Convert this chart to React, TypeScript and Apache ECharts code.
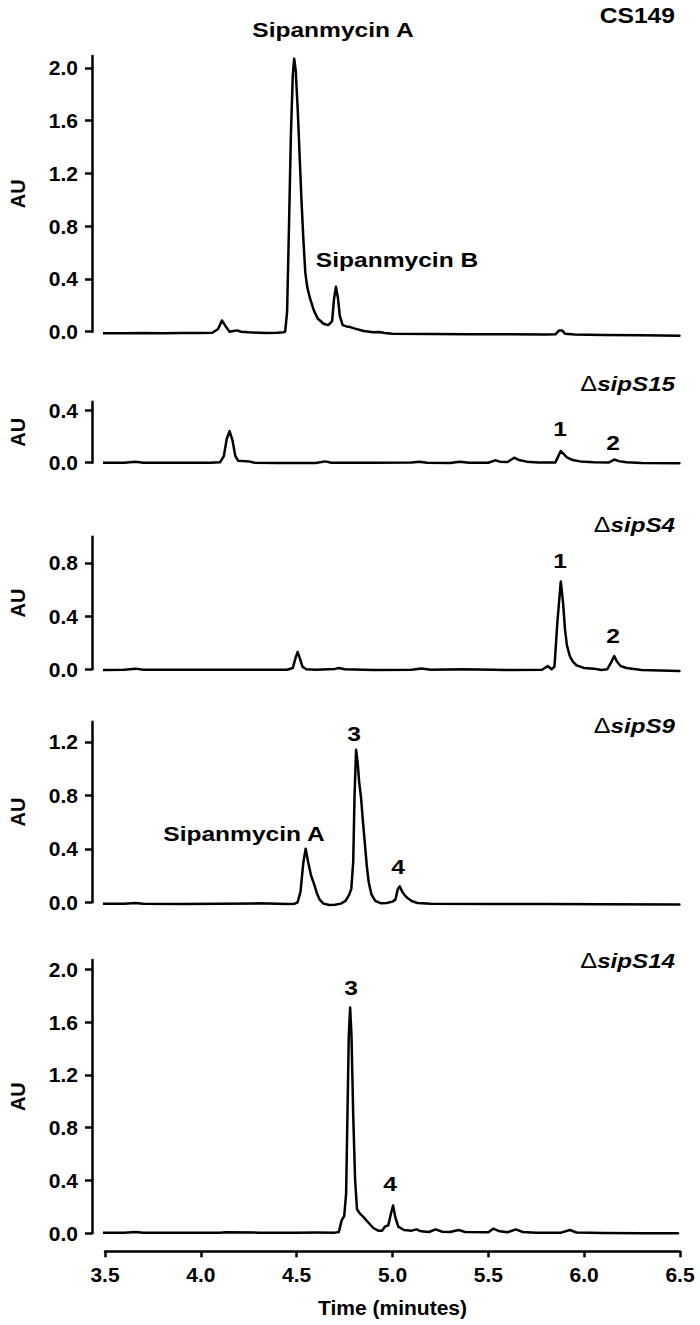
import React, { useEffect, useRef } from "react";
import * as echarts from "echarts";

// ---------- Data ----------
const xTicks = [3.5, 4.0, 4.5, 5.0, 5.5, 6.0, 6.5];

// CS149
const p1Time = [3.49, 3.6, 3.7, 3.8, 3.9, 4.0, 4.06, 4.09, 4.11, 4.13, 4.15, 4.17, 4.19, 4.21, 4.25, 4.3, 4.35, 4.4, 4.43, 4.44, 4.45, 4.46, 4.47, 4.48, 4.487, 4.495, 4.505, 4.515, 4.525, 4.535, 4.545, 4.555, 4.57, 4.59, 4.61, 4.64, 4.665, 4.685, 4.695, 4.705, 4.715, 4.725, 4.74, 4.76, 4.78, 4.8, 4.85, 4.9, 4.93, 4.96, 5.0, 5.2, 5.4, 5.6, 5.8, 5.85, 5.87, 5.885, 5.9, 5.95, 6.1, 6.3, 6.497];
const p1AU = [-0.012, -0.012, -0.01, -0.012, -0.01, -0.01, -0.008, 0.02, 0.085, 0.04, 0.0, 0.005, 0.01, 0.0, -0.005, -0.008, -0.01, -0.008, -0.004, 0.0, 0.15, 0.8, 1.5, 1.95, 2.07, 1.98, 1.7, 1.35, 1.0, 0.7, 0.45, 0.34, 0.25, 0.16, 0.1, 0.06, 0.05, 0.08, 0.25, 0.34, 0.26, 0.12, 0.05, 0.04, 0.035, 0.025, 0.005, -0.005, -0.002, -0.01, -0.015, -0.018, -0.02, -0.02, -0.022, -0.02, 0.01, 0.01, -0.015, -0.022, -0.025, -0.027, -0.03];
const p1Ticks = [0, 0.4, 0.8, 1.2, 1.6, 2.0];

// ΔsipS15
const p2Time = [3.49, 3.6, 3.66, 3.7, 3.9, 4.05, 4.1, 4.12, 4.135, 4.15, 4.165, 4.18, 4.195, 4.22, 4.25, 4.28, 4.4, 4.6, 4.65, 4.68, 4.9, 5.1, 5.14, 5.18, 5.3, 5.35, 5.4, 5.5, 5.535, 5.56, 5.6, 5.635, 5.66, 5.7, 5.76, 5.85, 5.865, 5.878, 5.89, 5.91, 5.94, 5.98, 6.05, 6.13, 6.157, 6.18, 6.22, 6.3, 6.497];
const p2AU = [0.0, 0.0, 0.008, 0.0, 0.0, 0.0, 0.003, 0.05, 0.18, 0.24, 0.17, 0.05, 0.015, 0.012, 0.01, 0.0, -0.002, -0.002, 0.01, 0.0, 0.0, 0.002, 0.008, 0.0, -0.002, 0.007, 0.0, 0.0, 0.018, 0.008, 0.005, 0.038, 0.02, 0.008, 0.002, 0.002, 0.05, 0.088, 0.07, 0.04, 0.02, 0.01, 0.003, 0.002, 0.024, 0.012, 0.003, -0.003, -0.005];
const p2Ticks = [0, 0.4];

// ΔsipS4
const p3Time = [3.49, 3.6, 3.66, 3.7, 3.9, 4.1, 4.3, 4.45, 4.48, 4.495, 4.505, 4.515, 4.53, 4.55, 4.6, 4.7, 4.72, 4.75, 4.9, 5.1, 5.15, 5.2, 5.37, 5.6, 5.78, 5.81, 5.83, 5.845, 5.86, 5.878, 5.89, 5.9, 5.91, 5.925, 5.94, 5.96, 6.0, 6.05, 6.09, 6.12, 6.14, 6.157, 6.17, 6.19, 6.22, 6.3, 6.497];
const p3AU = [-0.005, -0.003, 0.005, -0.003, -0.004, -0.004, -0.004, -0.003, 0.01, 0.09, 0.13, 0.09, 0.02, 0.0, -0.003, 0.003, 0.01, 0.0, -0.005, -0.004, 0.006, -0.004, 0.0, -0.006, -0.004, 0.025, 0.0, 0.02, 0.35, 0.66, 0.5, 0.3, 0.18, 0.1, 0.06, 0.03, 0.01, 0.005, -0.005, 0.0, 0.05, 0.1, 0.06, 0.025, 0.01, -0.005, -0.012];
const p3Ticks = [0, 0.4, 0.8];

// ΔsipS9
const p4Time = [3.49, 3.6, 3.66, 3.7, 3.9, 4.1, 4.3, 4.45, 4.49, 4.505, 4.52, 4.535, 4.547, 4.56, 4.575, 4.59, 4.605, 4.62, 4.64, 4.67, 4.7, 4.73, 4.755, 4.775, 4.785, 4.795, 4.802, 4.81, 4.818, 4.826, 4.836, 4.846, 4.857, 4.866, 4.876, 4.89, 4.91, 4.94, 4.97, 5.0, 5.015, 5.028, 5.038, 5.05, 5.065, 5.08, 5.1, 5.13, 5.2, 5.5, 5.8, 6.1, 6.497];
const p4AU = [-0.01, -0.01, -0.005, -0.01, -0.012, -0.01, -0.008, -0.012, -0.01, 0.0, 0.08, 0.3, 0.4, 0.3, 0.2, 0.14, 0.07, 0.02, -0.01, -0.02, -0.018, -0.01, 0.01, 0.06, 0.1, 0.3, 0.8, 1.14, 1.05, 0.9, 0.78, 0.6, 0.42, 0.27, 0.15, 0.06, 0.01, -0.008, -0.005, 0.005, 0.02, 0.1, 0.12, 0.08, 0.05, 0.03, 0.01, -0.005, -0.01, -0.012, -0.012, -0.014, -0.016];
const p4Ticks = [0, 0.4, 0.8, 1.2];

// ΔsipS14
const p5Time = [3.49, 3.6, 3.66, 3.7, 3.9, 4.1, 4.13, 4.3, 4.5, 4.6, 4.7, 4.72, 4.735, 4.748, 4.758, 4.765, 4.772, 4.779, 4.786, 4.795, 4.805, 4.815, 4.83, 4.85, 4.875, 4.9, 4.925, 4.945, 4.96, 4.978, 4.992, 5.003, 5.015, 5.03, 5.06, 5.1, 5.125, 5.15, 5.19, 5.225, 5.26, 5.3, 5.345, 5.38, 5.5, 5.525, 5.56, 5.6, 5.643, 5.68, 5.75, 5.88, 5.925, 5.96, 6.1, 6.3, 6.49];
const p5AU = [0.005, 0.005, 0.01, 0.005, 0.004, 0.004, 0.008, 0.005, 0.005, 0.006, 0.005, 0.01, 0.1, 0.13, 0.3, 0.9, 1.5, 1.71, 1.5, 0.9, 0.4, 0.18, 0.15, 0.12, 0.08, 0.04, 0.02, 0.02, 0.05, 0.06, 0.15, 0.21, 0.12, 0.05, 0.025, 0.02, 0.03, 0.015, 0.01, 0.03, 0.012, 0.01, 0.025, 0.01, 0.008, 0.035, 0.015, 0.008, 0.03, 0.01, 0.005, 0.005, 0.025, 0.006, 0.002, 0.0, 0.0];
const p5Ticks = [0, 0.4, 0.8, 1.2, 1.6, 2.0];

const panelNames = ["CS149", "sipS15", "sipS4", "sipS9", "sipS14"];
const panelTimes = [p1Time, p2Time, p3Time, p4Time, p5Time];
const panelValues = [p1AU, p2AU, p3AU, p4AU, p5AU];
const panelTicks = [p1Ticks, p2Ticks, p3Ticks, p4Ticks, p5Ticks];
const panelMax = [2.09, 0.463, 0.997, 1.35, 2.07];

// ---------- Layout ----------
const gridTops = [56, 401.7, 536.7, 721.7, 960];
const gridHeights = [275.7, 61, 132.6, 180.6, 273.3];
const GRID_LEFT = 99;
const GRID_RIGHT = 20;
const FONT = "'Liberation Sans', Arial, sans-serif";

const App: React.FC = () => {
  const ref = useRef<HTMLDivElement>(null);

  useEffect(() => {
    if (!ref.current) return;
    const chart = echarts.init(ref.current, undefined, { renderer: "svg" });

    const grids = gridTops.map((top, i) => ({
      left: GRID_LEFT,
      right: GRID_RIGHT,
      top,
      height: gridHeights[i],
    }));

    const xAxes = gridTops.map((_, i) => {
      const last = i === gridTops.length - 1;
      return {
        type: "value",
        gridIndex: i,
        min: xTicks[0],
        max: xTicks[xTicks.length - 1],
        interval: 0.5,
        show: last,
        offset: 18,
        name: last ? "Time (minutes)" : "",
        nameLocation: "middle",
        nameGap: 46,
        nameTextStyle: { fontFamily: FONT, fontWeight: "bold", fontSize: 21, color: "#000" },
        axisLine: { show: true, onZero: false, lineStyle: { color: "#000", width: 2.5 } },
        axisTick: { show: true, inside: false, length: 6, lineStyle: { color: "#000", width: 2.5 } },
        axisLabel: {
          show: true,
          margin: 13,
          fontFamily: FONT,
          fontWeight: "bold",
          fontSize: 21,
          color: "#000",
          formatter: (v: number) => v.toFixed(1),
        },
        splitLine: { show: false },
      };
    });

    const yAxes = gridTops.map((_, i) => ({
      type: "value",
      gridIndex: i,
      min: 0,
      max: panelMax[i],
      interval: 0.4,
      offset: 13,
      name: "AU",
      nameLocation: "middle",
      nameRotate: 90,
      nameGap: 64,
      nameTextStyle: { fontFamily: FONT, fontWeight: "bold", fontSize: 20, color: "#000" },
      axisLine: { show: true, onZero: false, lineStyle: { color: "#000", width: 2.5 } },
      axisTick: {
        show: true,
        inside: false,
        length: 7,
        customValues: panelTicks[i],
        lineStyle: { color: "#000", width: 2.5 },
      },
      axisLabel: {
        show: true,
        margin: 14,
        customValues: panelTicks[i],
        fontFamily: FONT,
        fontWeight: "bold",
        fontSize: 21,
        color: "#000",
        formatter: (v: number) => {
          const ok = panelTicks[i].some((t) => Math.abs(t - v) < 1e-6);
          return ok ? v.toFixed(1) : "";
        },
      },
      splitLine: { show: false },
    }));

    const series = panelTimes.map((times, i) => ({
      type: "line",
      name: panelNames[i],
      xAxisIndex: i,
      yAxisIndex: i,
      data: times.map((t, k) => [t, panelValues[i][k]]),
      showSymbol: false,
      symbol: "none",
      clip: false,
      lineStyle: { color: "#000", width: 2.5, join: "round", cap: "round" },
      emphasis: { disabled: true },
    }));

    const bold = (text: string, x: number, y: number, align = "center", size = 21, sx = 1.17) => ({
      type: "text",
      x,
      y,
      scaleX: sx,
      style: {
        text,
        align,
        verticalAlign: "middle",
        fontFamily: FONT,
        fontWeight: "bold",
        fontSize: size,
        fill: "#000",
      },
    });

    const mutant = (name: string, x: number, y: number) => ({
      type: "text",
      x,
      y,
      scaleX: 1.15,
      style: {
        text: `{d|\u0394}{i|${name}}`,
        align: "right",
        verticalAlign: "middle",
        fill: "#000",
        rich: {
          d: { fontFamily: FONT, fontWeight: "normal", fontSize: 22, fill: "#000" },
          i: { fontFamily: FONT, fontWeight: "bold", fontStyle: "italic", fontSize: 21, fill: "#000" },
        },
      },
    });

    const graphics = [
      bold("Sipanmycin A", 333, 30),
      bold(panelNames[0], 675, 15, "right", 22, 1.12),
      bold("Sipanmycin B", 397, 260),
      mutant(panelNames[1], 675, 384),
      bold("1", 560, 429),
      bold("2", 613, 443),
      mutant(panelNames[2], 675, 525),
      bold("1", 560, 561),
      bold("2", 613, 636),
      mutant(panelNames[3], 675, 726),
      bold("3", 354, 734),
      bold("4", 398, 867),
      bold("Sipanmycin A", 244, 834),
      mutant(panelNames[4], 675, 961),
      bold("3", 351, 988),
      bold("4", 390, 1184),
    ];

    chart.setOption({
      animation: false,
      backgroundColor: "#fff",
      grid: grids,
      xAxis: xAxes,
      yAxis: yAxes,
      series,
      graphic: graphics,
    } as any);

    return () => chart.dispose();
  }, []);

  return (
    <div
      ref={ref}
      style={{ position: "absolute", left: 0, top: 0, width: 700, height: 1325, background: "#fff" }}
    />
  );
};

export default App;
